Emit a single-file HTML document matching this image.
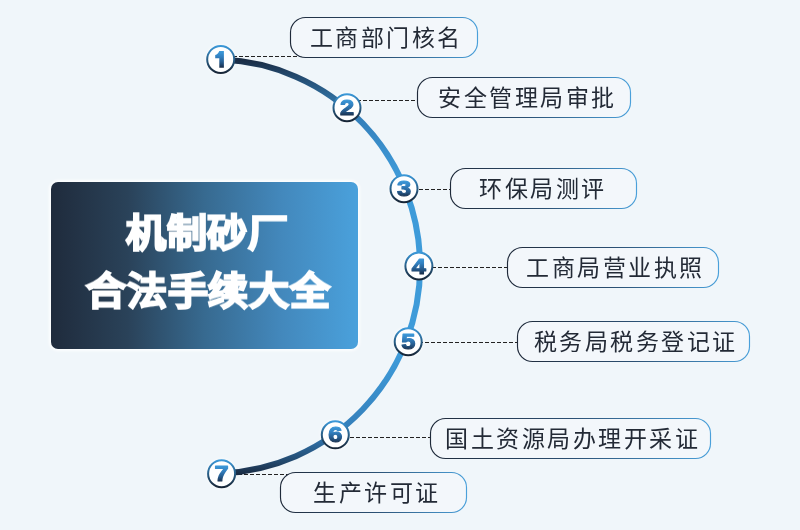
<!DOCTYPE html>
<html lang="zh-CN">
<head>
<meta charset="utf-8">
<style>
html,body{margin:0;padding:0;}
body{width:800px;height:530px;overflow:hidden;background:#f0f6fa;position:relative;font-family:"Liberation Sans",sans-serif;}
svg{position:absolute;left:0;top:0;will-change:transform;}
.main{position:absolute;left:51px;top:182px;width:307px;height:167px;border-radius:7px;
 background:linear-gradient(90deg,#1f2b3c 0%,#2a4259 25%,#376a90 50%,#4388bc 75%,#4aa1dc 100%);
 box-shadow:0 0 3px 2px rgba(255,255,255,0.85);}
.main div{position:absolute;left:0;width:100%;text-align:center;color:#fff;font-weight:900;font-size:40px;line-height:40px;letter-spacing:0.7px;white-space:nowrap;-webkit-text-stroke:2.2px #fff;transform:scaleY(0.95);will-change:transform;}
.lab{position:absolute;height:40px;box-sizing:border-box;border-radius:14px;}
.lab .t{position:absolute;left:0;top:1px;width:100%;height:100%;text-align:center;line-height:40px;font-size:23px;letter-spacing:2.5px;text-indent:2.5px;font-weight:300;color:#232a36;white-space:nowrap;will-change:transform;}
</style>
</head>
<body>
<svg width="800" height="530" viewBox="0 0 800 530">
<defs>
<linearGradient id="arcg" gradientUnits="userSpaceOnUse" x1="0" y1="60" x2="0" y2="474">
<stop offset="0.0000" stop-color="#1a2c44"/>
<stop offset="0.0362" stop-color="#23486c"/>
<stop offset="0.0918" stop-color="#2e6c9c"/>
<stop offset="0.1449" stop-color="#3580bb"/>
<stop offset="0.2174" stop-color="#3a8fcc"/>
<stop offset="0.2850" stop-color="#3e9bd9"/>
<stop offset="0.7126" stop-color="#3e9bd9"/>
<stop offset="0.7971" stop-color="#3a8fcc"/>
<stop offset="0.8816" stop-color="#3580bb"/>
<stop offset="0.9251" stop-color="#2d6a9e"/>
<stop offset="0.9710" stop-color="#23486c"/>
<stop offset="1.0000" stop-color="#1a2c44"/>
</linearGradient>
<linearGradient id="ring" x1="0" y1="0" x2="0" y2="1">
<stop offset="0" stop-color="#3b98d8"/>
<stop offset="1" stop-color="#172536"/>
</linearGradient>
<linearGradient id="num" gradientUnits="userSpaceOnUse" x1="0" y1="-8.5" x2="0" y2="8.5">
<stop offset="0" stop-color="#3e9cdc"/>
<stop offset="0.35" stop-color="#3280c0"/>
<stop offset="0.7" stop-color="#255889"/>
<stop offset="1" stop-color="#182a44"/>
</linearGradient>
<linearGradient id="bord" x1="0" y1="0" x2="1" y2="0">
<stop offset="0" stop-color="#1f2a3a"/>
<stop offset="0.5" stop-color="#2b4f72"/>
<stop offset="1" stop-color="#4aa0da"/>
</linearGradient>
<filter id="glow" x="-50%" y="-50%" width="200%" height="200%">
<feGaussianBlur stdDeviation="1.5"/>
</filter>
</defs>
<g id="glows"><circle cx="220.7" cy="59.4" r="15.5" fill="#fff" opacity="0.5" filter="url(#glow)"/><circle cx="347" cy="107.7" r="15.5" fill="#fff" opacity="0.5" filter="url(#glow)"/><circle cx="404" cy="188.7" r="15.5" fill="#fff" opacity="0.5" filter="url(#glow)"/><circle cx="418.9" cy="266" r="15.5" fill="#fff" opacity="0.5" filter="url(#glow)"/><circle cx="408.2" cy="341.7" r="15.5" fill="#fff" opacity="0.5" filter="url(#glow)"/><circle cx="335.3" cy="434.8" r="15.5" fill="#fff" opacity="0.5" filter="url(#glow)"/><circle cx="221.6" cy="473.7" r="15.5" fill="#fff" opacity="0.5" filter="url(#glow)"/></g>
<g stroke="#222" stroke-width="1" stroke-dasharray="4 2" fill="none">
<line x1="221" y1="56.5" x2="310" y2="56.5"/>
<line x1="345" y1="100.5" x2="430" y2="100.5"/>
<line x1="407" y1="189.5" x2="462" y2="189.5"/>
<line x1="420" y1="267.5" x2="520" y2="267.5"/>
<line x1="407" y1="342.5" x2="530" y2="342.5"/>
<line x1="332" y1="437.5" x2="444" y2="437.5"/>
<line x1="220" y1="474.5" x2="296" y2="474.5"/>
</g>
<path d="M 222.2 59.6 A 207 207 0 0 1 222.2 473.2" stroke="url(#arcg)" stroke-width="6" fill="none"/>
<g id="labels">
<rect x="290.5" y="17.5" width="187" height="40" rx="15" fill="#f3f7fb" stroke="url(#bord)" stroke-width="1.15"/>
<rect x="417.5" y="77.5" width="213" height="40" rx="15" fill="#f3f7fb" stroke="url(#bord)" stroke-width="1.15"/>
<rect x="450.5" y="168.5" width="186" height="40" rx="15" fill="#f3f7fb" stroke="url(#bord)" stroke-width="1.15"/>
<rect x="507.5" y="247.5" width="211" height="40" rx="15" fill="#f3f7fb" stroke="url(#bord)" stroke-width="1.15"/>
<rect x="517.5" y="321.5" width="232" height="40" rx="15" fill="#f3f7fb" stroke="url(#bord)" stroke-width="1.15"/>
<rect x="430.5" y="418.5" width="280" height="40" rx="15" fill="#f3f7fb" stroke="url(#bord)" stroke-width="1.15"/>
<rect x="280.5" y="472.5" width="186" height="40" rx="15" fill="#f3f7fb" stroke="url(#bord)" stroke-width="1.15"/>
</g>
<g id="circles">
<g transform="translate(220.7 59.4)"><circle r="13.5" fill="#fff" stroke="url(#ring)" stroke-width="2"/><path d="M -1.4 -8.3 L 3.2 -8.3 L 3.2 8.3 L -1.4 8.3 L -1.4 -1.2 L -5.5 -1.2 L -5.5 -4.3 C -3.5 -4.6 -2 -6.5 -1.4 -8.3 Z" fill="url(#num)"/></g>
<g transform="translate(347 107.7)"><circle r="13.5" fill="#fff" stroke="url(#ring)" stroke-width="2"/><text x="0" y="7.6" text-anchor="middle" transform="scale(1.18 1)" font-family="Liberation Sans" font-weight="bold" font-size="21.5" fill="url(#num)" stroke="url(#num)" stroke-width="1.1" stroke-linejoin="round">2</text></g>
<g transform="translate(404 188.7)"><circle r="13.5" fill="#fff" stroke="url(#ring)" stroke-width="2"/><text x="0" y="7.6" text-anchor="middle" transform="scale(1.18 1)" font-family="Liberation Sans" font-weight="bold" font-size="21.5" fill="url(#num)" stroke="url(#num)" stroke-width="1.1" stroke-linejoin="round">3</text></g>
<g transform="translate(418.9 266)"><circle r="13.5" fill="#fff" stroke="url(#ring)" stroke-width="2"/><text x="0" y="7.6" text-anchor="middle" transform="scale(1.18 1)" font-family="Liberation Sans" font-weight="bold" font-size="21.5" fill="url(#num)" stroke="url(#num)" stroke-width="1.1" stroke-linejoin="round">4</text></g>
<g transform="translate(408.2 341.7)"><circle r="13.5" fill="#fff" stroke="url(#ring)" stroke-width="2"/><text x="0" y="7.6" text-anchor="middle" transform="scale(1.18 1)" font-family="Liberation Sans" font-weight="bold" font-size="21.5" fill="url(#num)" stroke="url(#num)" stroke-width="1.1" stroke-linejoin="round">5</text></g>
<g transform="translate(335.3 434.8)"><circle r="13.5" fill="#fff" stroke="url(#ring)" stroke-width="2"/><text x="0" y="7.6" text-anchor="middle" transform="scale(1.18 1)" font-family="Liberation Sans" font-weight="bold" font-size="21.5" fill="url(#num)" stroke="url(#num)" stroke-width="1.1" stroke-linejoin="round">6</text></g>
<g transform="translate(221.6 473.7)"><circle r="13.5" fill="#fff" stroke="url(#ring)" stroke-width="2"/><text x="0" y="7.6" text-anchor="middle" transform="scale(1.18 1)" font-family="Liberation Sans" font-weight="bold" font-size="21.5" fill="url(#num)" stroke="url(#num)" stroke-width="1.1" stroke-linejoin="round">7</text></g>
</g>
</svg>
<div class="main">
<div style="top:31px;left:3px">机制砂厂</div>
<div style="top:89px;left:4px">合法手续大全</div>
</div>
<div class="lab" style="left:290px;top:17px;width:188px"><div class="t" style="left:1px">工商部门核名</div></div>
<div class="lab" style="left:417px;top:77px;width:214px"><div class="t" style="left:2px">安全管理局审批</div></div>
<div class="lab" style="left:450px;top:168px;width:187px"><div class="t" style="left:-2px">环保局测评</div></div>
<div class="lab" style="left:507px;top:247px;width:212px"><div class="t" style="left:0.5px">工商局营业执照</div></div>
<div class="lab" style="left:517px;top:321px;width:233px"><div class="t" style="left:1px">税务局税务登记证</div></div>
<div class="lab" style="left:430px;top:418px;width:281px"><div class="t" style="left:1px">国土资源局办理开采证</div></div>
<div class="lab" style="left:280px;top:472px;width:187px"><div class="t" style="left:2px">生产许可证</div></div>
</body>
</html>
